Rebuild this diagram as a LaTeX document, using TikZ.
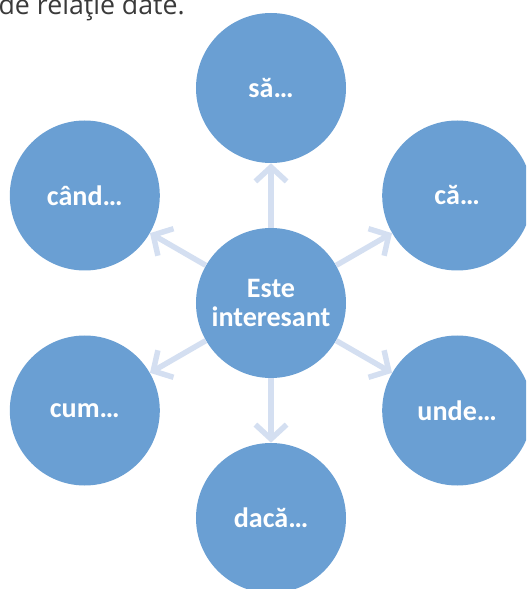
\documentclass[tikz,border=0pt]{standalone}
\usepackage{fontspec}
\setmainfont{Carlito}
\newfontfamily\introfont{Open Sans}
\usetikzlibrary{arrows.meta}
\definecolor{bubbleblue}{HTML}{6A9FD3}
\definecolor{spokeblue}{HTML}{D4DFF1}
\definecolor{introgray}{HTML}{3A3A3A}

\begin{document}
\begin{tikzpicture}[
    bubble/.style={circle,fill=bubbleblue,minimum size=3.75cm,inner sep=0pt,
        text=white,align=center,font=\fontsize{20}{21}\selectfont\bfseries},
    spoke/.style={draw=spokeblue,line width=3.9pt,
        -{Straight Barb[length=0.36cm,width=0.78cm]}}]
    \clip (-6.775,-7.15) rectangle (6.375,7.575);

    % intro line, cut at the top
    \node[anchor=base east,inner sep=0pt,text=introgray,
        font=\introfont\fontsize{19}{20}\selectfont] (intro) at (-2.15,7.2) {de relaţie date.};

    % center
    \node[bubble] (este) at (0,0) {Este\\interesant};

    % outer bubbles
    \node[bubble] (sa)   at (90:5.375)  {să…};
    \node[bubble] (ca)   at (30:5.375)  {că…};
    \node[bubble] (unde) at (-30:5.375) {unde…};
    \node[bubble] (daca) at (-90:5.375) {dacă…};
    \node[bubble] (cum)  at (210:5.375) {cum…};
    \node[bubble] (cand) at (150:5.375) {când…};

    % spokes
    \foreach \n in {sa,ca,unde,daca,cum,cand}
        \draw[spoke] (este) -- (\n);
\end{tikzpicture}
\end{document}
